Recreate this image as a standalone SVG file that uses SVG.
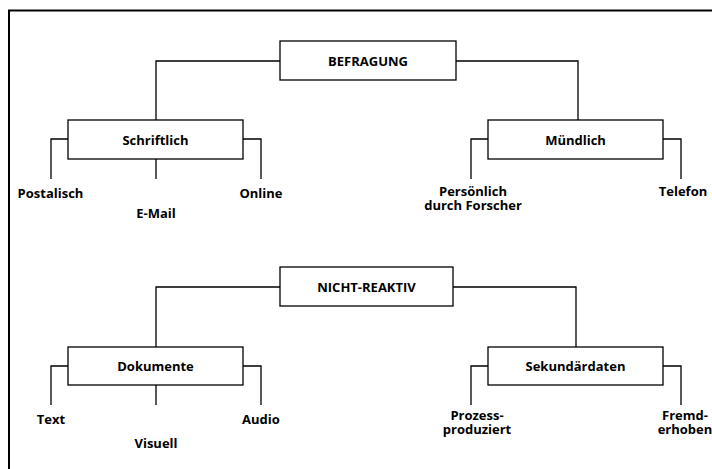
<svg xmlns="http://www.w3.org/2000/svg" width="712" height="469" viewBox="0 0 712 469">
<style>
.box{fill:#fff;stroke:#000;stroke-width:1.3}
.ln{fill:none;stroke:#000;stroke-width:1.3}
.frame{fill:none;stroke:#000;stroke-width:2}
text{font-family:"Open Sans","Liberation Sans",sans-serif;font-weight:700;font-size:13px;fill:#000;text-anchor:middle;dominant-baseline:central}
</style>
<rect width="712" height="469" fill="#fff"/>
<path class="frame" d="M9,469 V10.5 H712"/>
<g id="connectors">
<path class="ln" d="M280,61 H156 V120"/>
<path class="ln" d="M456,61 H578 V120"/>
<path class="ln" d="M68,139 H51 V179"/>
<path class="ln" d="M243,139 H261 V179"/>
<path class="ln" d="M156,159 V179"/>
<path class="ln" d="M488,139 H471 V179"/>
<path class="ln" d="M663,139 H681 V179"/>
<path class="ln" d="M280,287 H156 V347"/>
<path class="ln" d="M453,287 H576 V347"/>
<path class="ln" d="M68,366 H51 V405"/>
<path class="ln" d="M243,366 H261 V405"/>
<path class="ln" d="M156,385 V405"/>
<path class="ln" d="M488,366 H471 V405"/>
<path class="ln" d="M663,366 H681 V405"/>
</g>
<g id="befragung"><rect class="box" x="280" y="41" width="176" height="39"/><text x="368" y="61">BEFRAGUNG</text></g>
<g id="schriftlich"><rect class="box" x="68" y="120" width="175" height="39"/><text x="155.5" y="139.5">Schriftlich</text></g>
<g id="muendlich"><rect class="box" x="488" y="120" width="175" height="39"/><text x="575.5" y="139.5">Mündlich</text></g>
<g id="postalisch"><text x="50.5" y="192.5">Postalisch</text></g>
<g id="email"><text x="156" y="212.5">E-Mail</text></g>
<g id="online"><text x="261" y="192.5">Online</text></g>
<g id="persoenlich"><text x="473" y="190.5">Persönlich</text><text x="473" y="205">durch Forscher</text></g>
<g id="telefon"><text x="683" y="191">Telefon</text></g>
<g id="nichtreaktiv"><rect class="box" x="280" y="267" width="173" height="39"/><text x="366.5" y="287">NICHT-REAKTIV</text></g>
<g id="dokumente"><rect class="box" x="68" y="347" width="175" height="38"/><text x="155.5" y="366">Dokumente</text></g>
<g id="sekundaerdaten"><rect class="box" x="488" y="347" width="175" height="38"/><text x="575.5" y="366">Sekundärdaten</text></g>
<g id="text"><text x="51" y="419">Text</text></g>
<g id="visuell"><text x="156" y="443">Visuell</text></g>
<g id="audio"><text x="261" y="419">Audio</text></g>
<g id="prozess"><text x="477" y="414.5">Prozess-</text><text x="477" y="429">produziert</text></g>
<g id="fremd"><text x="685" y="414.5">Fremd-</text><text x="685" y="429">erhoben</text></g>
</svg>
